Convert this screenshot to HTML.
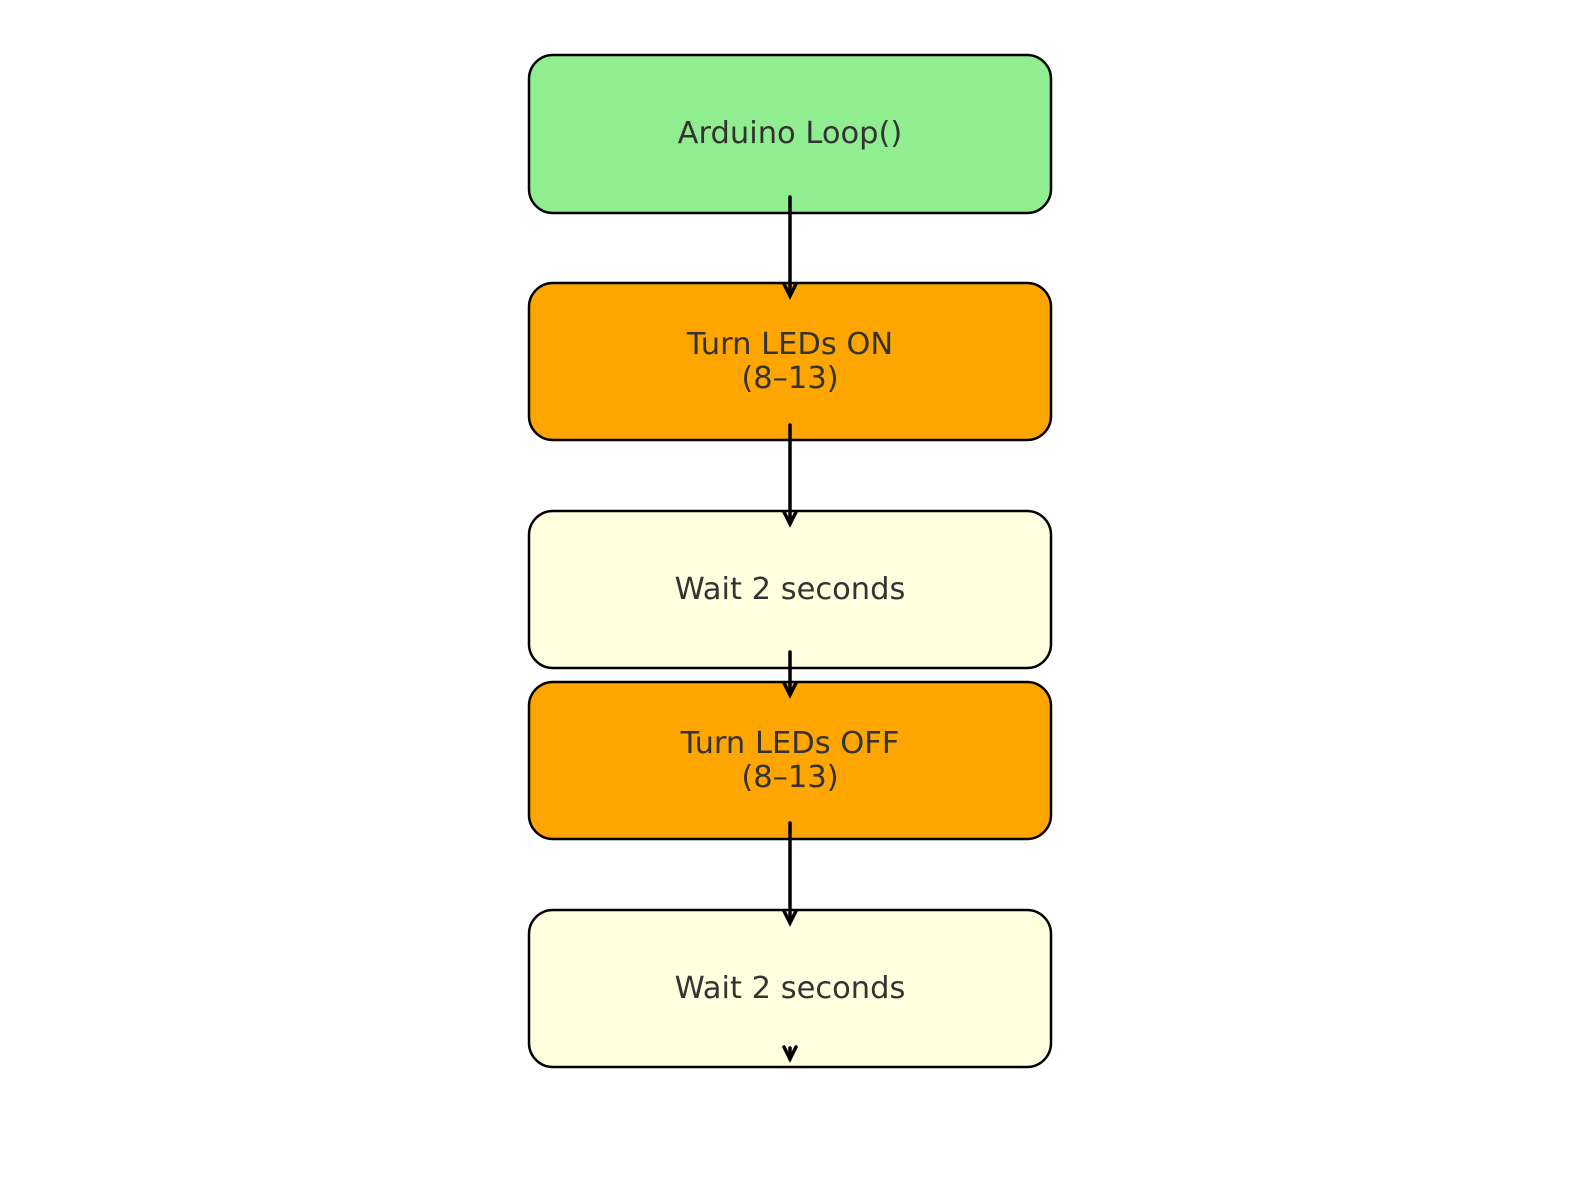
<!DOCTYPE html>
<html><head><meta charset="utf-8"><style>
html,body{margin:0;padding:0;background:#fff;}
</style></head><body>
<svg width="1580" height="1180" viewBox="0 0 1580 1180" xmlns="http://www.w3.org/2000/svg" font-family="DejaVu Sans, Liberation Sans, sans-serif" font-size="30.5" fill="#333">
<g stroke="#000" stroke-width="2.5">
<rect x="529" y="55" width="522" height="158" rx="24" fill="#90ee90"/>
<rect x="529" y="283" width="522" height="157" rx="24" fill="#ffa500"/>
<rect x="529" y="511" width="522" height="157" rx="24" fill="#ffffe0"/>
<rect x="529" y="682" width="522" height="157" rx="24" fill="#ffa500"/>
<rect x="529" y="910" width="522" height="157" rx="24" fill="#ffffe0"/>
</g>
<g fill="#333" text-anchor="middle">
<text x="790" y="143">Arduino Loop()</text>
<text x="790" y="354">Turn LEDs ON</text>
<text x="790" y="388">(8–13)</text>
<text x="790" y="599">Wait 2 seconds</text>
<text x="790" y="753">Turn LEDs OFF</text>
<text x="790" y="787">(8–13)</text>
<text x="790" y="998">Wait 2 seconds</text>
</g>
<g stroke="#000" stroke-width="3.5" fill="none" stroke-linecap="round">
<line x1="790" y1="197" x2="790" y2="295"/><polyline points="784,284 790,296 796,284"/>
<line x1="790" y1="425" x2="790" y2="523"/><polyline points="784,512 790,524 796,512"/>
<line x1="790" y1="652" x2="790" y2="694"/><polyline points="784,683 790,695 796,683"/>
<line x1="790" y1="823" x2="790" y2="922"/><polyline points="784,911 790,923 796,911"/>
<line x1="790" y1="1048" x2="790" y2="1059"/><polyline points="784,1047 790,1059 796,1047"/>
</g>
</svg>
</body></html>
